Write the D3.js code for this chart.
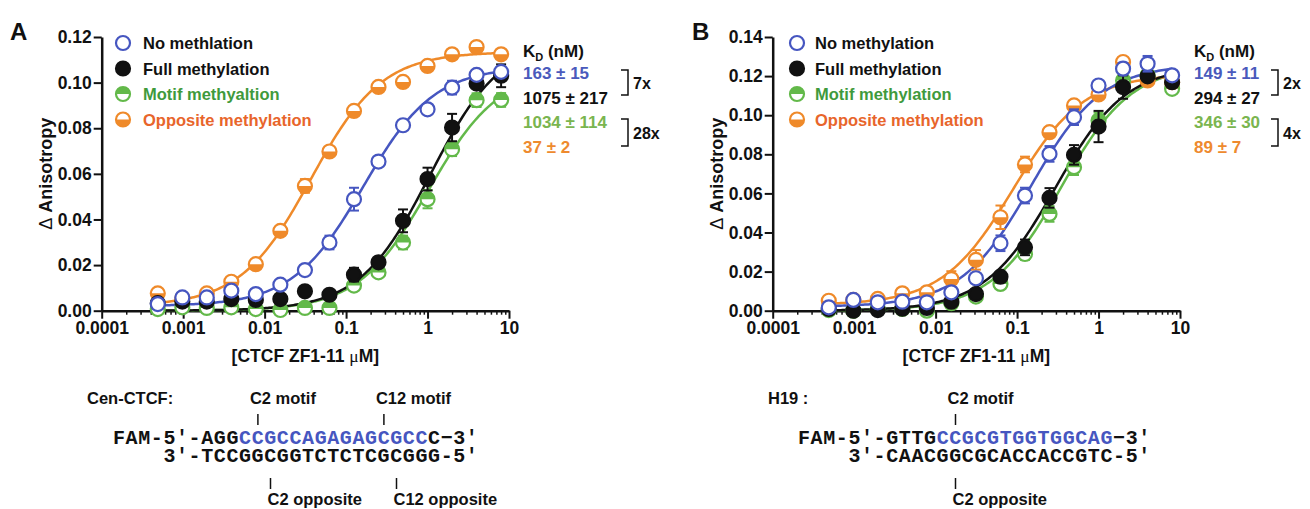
<!DOCTYPE html>
<html>
<head>
<meta charset="utf-8">
<script src="https://cdn.jsdelivr.net/npm/d3@7"></script>
<style>
body { margin: 0; background: #fff; }
svg text { font-family: Arial, "Liberation Sans", sans-serif; font-weight: bold; fill: #111; }
.axis path, .axis line { stroke: #111; }
</style>
</head>
<body>
<div id="vis"></div>
<script>
// titration points (uM), 2-fold dilutions
var conc = [0.000488, 0.000977, 0.00195, 0.0039, 0.0078, 0.0156, 0.03125, 0.0625, 0.125, 0.25, 0.5, 1, 2, 4, 8];
var xTicks = [0.0001, 0.001, 0.01, 0.1, 1, 10];
var xTickLabels = ['0.0001', '0.001', '0.01', '0.1', '1', '10'];
var yTicksA = [0, 0.02, 0.04, 0.06, 0.08, 0.10, 0.12];
var yTicksB = [0, 0.02, 0.04, 0.06, 0.08, 0.10, 0.12, 0.14];

var seriesA = ['No methlation', 'Full methylation', 'Motif methyaltion', 'Opposite methylation'];
var seriesB = ['No methylation', 'Full methylation', 'Motif methylation', 'Opposite methylation'];

// panel A (Cen-CTCF)
var noMethA   = [0.0029, 0.0058, 0.0058, 0.0088, 0.0073, 0.0114, 0.0178, 0.0299, 0.0489, 0.0654, 0.0813, 0.0883, 0.0978, 0.1034, 0.1047];
var fullMethA = [0.0033, 0.0040, 0.0040, 0.0051, 0.0047, 0.0051, 0.0085, 0.0070, 0.0158, 0.0212, 0.0394, 0.0577, 0.0803, 0.0996, 0.1030];
var motifA    = [0.0007, 0.0015, 0.0012, 0.0015, 0.0007, 0.0003, 0.0012, 0.0012, 0.0110, 0.0168, 0.0299, 0.0489, 0.0708, 0.0923, 0.0924];
var oppA      = [0.0076, 0.0055, 0.0076, 0.0127, 0.0204, 0.0350, 0.0547, 0.0698, 0.0876, 0.0981, 0.1003, 0.1073, 0.1124, 0.1156, 0.1124];
var noMethErrA   = [0.001, 0.001, 0.001, 0.002, 0.001, 0.001, 0.001, 0.003, 0.005, 0.002, 0.001, 0.002, 0.003, 0.002, 0.002];
var fullMethErrA = [0.001, 0.001, 0.001, 0.001, 0.001, 0.001, 0.001, 0.001, 0.003, 0.001, 0.005, 0.005, 0.006, 0.002, 0.005];
var motifErrA    = [0.001, 0.001, 0.001, 0.001, 0.001, 0.001, 0.001, 0.001, 0.002, 0.002, 0.003, 0.004, 0.003, 0.003, 0.003];
var oppErrA      = [0.001, 0.001, 0.001, 0.002, 0.001, 0.002, 0.003, 0.002, 0.002, 0.001, 0.001, 0.001, 0.001, 0.001, 0.001];
var kdA     = [0.163, 1.075, 1.034, 0.037];
var topA    = [0.107, 0.119, 0.106, 0.1135];
var bottomA = [0.002, 0, 0, 0.002];
var kdLabelsA = ['163 \u00b1 15', '1075 \u00b1 217', '1034 \u00b1 114', '37 \u00b1 2'];
var foldA = ['7x', '28x'];

// panel B (H19)
var noMethB   = [0.0017, 0.0055, 0.0043, 0.0046, 0.0043, 0.0094, 0.0166, 0.0345, 0.0589, 0.0802, 0.0990, 0.1152, 0.1238, 0.1263, 0.1204];
var fullMethB = [0.0009, 0.0000, 0.0003, 0.0010, 0.0014, 0.0046, 0.0085, 0.0174, 0.0324, 0.0577, 0.0797, 0.0942, 0.1144, 0.1199, 0.1169];
var motifB    = [0.0003, 0.0000, 0.0009, 0.0009, 0.0000, 0.0038, 0.0072, 0.0137, 0.0290, 0.0495, 0.0734, 0.0973, 0.1178, 0.1204, 0.1135];
var oppB      = [0.0051, 0.0055, 0.0060, 0.0089, 0.0094, 0.0162, 0.0260, 0.0478, 0.0748, 0.0913, 0.1050, 0.1106, 0.1272, 0.1178, 0.1169];
var noMethErrB   = [0.001, 0.001, 0.001, 0.001, 0.001, 0.002, 0.002, 0.004, 0.004, 0.004, 0.004, 0.002, 0.003, 0.004, 0.002];
var fullMethErrB = [0.001, 0.001, 0.001, 0.001, 0.001, 0.001, 0.002, 0.002, 0.004, 0.005, 0.005, 0.008, 0.006, 0.002, 0.002];
var motifErrB    = [0.001, 0.001, 0.001, 0.001, 0.001, 0.001, 0.002, 0.002, 0.003, 0.004, 0.004, 0.004, 0.003, 0.002, 0.002];
var oppErrB      = [0.001, 0.001, 0.001, 0.001, 0.001, 0.004, 0.005, 0.006, 0.004, 0.002, 0.002, 0.002, 0.002, 0.002, 0.002];
var kdB     = [0.149, 0.294, 0.346, 0.089];
var topB    = [0.126, 0.1255, 0.126, 0.121];
var bottomB = [0.002, 0, 0, 0.003];
var kdLabelsB = ['149 \u00b1 11', '294 \u00b1 27', '346 \u00b1 30', '89 \u00b1 7'];
var foldB = ['2x', '4x'];

var markerTypes = ['open', 'filled', 'top', 'bottom'];
var lineColors = ['#4656c0', '#111111', '#63b94a', '#ef8a2a'];
var legendColors = ['#111111', '#111111', '#3f9a3c', '#e8652b'];
var kdColors = ['#4a5abc', '#111111', '#7ab54f', '#ee8a2e'];

var width = 1310, height = 509;
var svg = d3.select('#vis').append('svg')
    .attr('width', width)
    .attr('height', height);

function drawMarker(sel, type, color, r) {
    sel.append('circle')
        .attr('r', r)
        .attr('fill', type == 'filled' ? color : '#fff')
        .attr('stroke', color)
        .attr('stroke-width', 2.2);
    if (type == 'top' || type == 'bottom') {
        var sweep = type == 'top' ? 1 : 0;
        sel.append('path')
            .attr('d', 'M' + (-r) + ',0 A' + r + ',' + r + ' 0 0 ' + sweep + ' ' + r + ',0 Z')
            .attr('fill', color);
    }
}

function drawPanel(p) {
    var x = d3.scaleLog().domain([0.0001, 10]).range([p.left, p.right]);
    var y = d3.scaleLinear().domain([0, p.yMax]).range([p.bottom, p.top]);
    var g = svg.append('g');

    // panel letter
    svg.append('text')
        .attr('x', p.letterX).attr('y', 40)
        .style('font-size', '24px')
        .text(p.letter);

    // axes
    var minor = [];
    for (var e = -4; e < 1; e++) {
        for (var m = 2; m < 10; m++) minor.push(m * Math.pow(10, e));
    }
    var xMinor = g.append('g').attr('class', 'axis')
        .attr('transform', 'translate(0,' + p.bottom + ')')
        .call(d3.axisBottom(x).tickValues(minor).tickSize(4).tickSizeOuter(0).tickFormat(''));
    xMinor.select('.domain').remove();
    xMinor.selectAll('line').attr('stroke-width', 1.5);

    var xAxis = g.append('g').attr('class', 'axis')
        .attr('transform', 'translate(0,' + p.bottom + ')')
        .call(d3.axisBottom(x).tickValues(xTicks).tickSize(8).tickSizeOuter(0).tickPadding(3)
            .tickFormat(function(d, i) { return xTickLabels[i]; }));
    xAxis.select('.domain').attr('stroke-width', 2.5);
    xAxis.selectAll('line').attr('stroke-width', 2);
    xAxis.selectAll('text').style('font-size', '17.5px').style('font-family', 'Arial, "Liberation Sans", sans-serif').attr('fill', '#111');

    var yAxis = g.append('g').attr('class', 'axis')
        .attr('transform', 'translate(' + p.left + ',0)')
        .call(d3.axisLeft(y).tickValues(p.yTicks).tickSize(8).tickSizeOuter(0).tickPadding(2).tickFormat(d3.format('.2f')));
    yAxis.select('.domain').attr('stroke-width', 2.5);
    yAxis.selectAll('line').attr('stroke-width', 2);
    yAxis.selectAll('text').style('font-size', '17.5px').style('font-family', 'Arial, "Liberation Sans", sans-serif').attr('fill', '#111');

    // axis titles
    var yt = svg.append('text')
        .attr('transform', 'translate(' + (p.left - 50) + ',' + ((p.top + p.bottom) / 2) + ') rotate(-90)')
        .attr('text-anchor', 'middle')
        .style('font-size', '18px');
    yt.append('tspan').style('font-weight', 'normal').text('\u0394');
    yt.append('tspan').text(' Anisotropy');

    var xt = svg.append('text')
        .attr('x', (p.left + p.right) / 2).attr('y', 362)
        .attr('text-anchor', 'middle')
        .style('font-size', '17.5px');
    xt.append('tspan').text('[CTCF ZF1-11 ');
    xt.append('tspan').style('font-weight', 'normal').style('font-family', '"Liberation Serif", serif').text('\u03bc');
    xt.append('tspan').text('M]');

    // fitted curves
    var line = d3.line().x(d => x(d[0])).y(d => y(d[1]));
    var lo = Math.log10(conc[0]), hi = Math.log10(conc[conc.length - 1]);
    var order = [2, 3, 1, 0];
    order.forEach(function(i) {
        var pts = d3.range(0, 201).map(function(k) {
            var c = Math.pow(10, lo + k * (hi - lo) / 200);
            return [c, p.bottoms[i] + (p.tops[i] - p.bottoms[i]) * c / (p.kd[i] + c)];
        });
        g.append('path')
            .attr('d', line(pts))
            .attr('fill', 'none')
            .attr('stroke', lineColors[i])
            .attr('stroke-width', 2.5);
    });

    // error bars and points
    order.forEach(function(i) {
        var vals = p.values[i], errs = p.errors[i];
        var sg = g.append('g');
        var eb = sg.selectAll('.eb').data(conc).enter().append('g');
        eb.append('line')
            .attr('x1', d => x(d)).attr('x2', d => x(d))
            .attr('y1', (d, j) => y(vals[j] - errs[j]))
            .attr('y2', (d, j) => y(vals[j] + errs[j]))
            .attr('stroke', lineColors[i]).attr('stroke-width', 2);
        [-1, 1].forEach(function(s) {
            eb.append('line')
                .attr('x1', d => x(d) - 5).attr('x2', d => x(d) + 5)
                .attr('y1', (d, j) => y(vals[j] + s * errs[j]))
                .attr('y2', (d, j) => y(vals[j] + s * errs[j]))
                .attr('stroke', lineColors[i]).attr('stroke-width', 2);
        });
        sg.selectAll('.pt').data(conc).enter().append('g')
            .attr('transform', (d, j) => 'translate(' + x(d) + ',' + y(vals[j]) + ')')
            .each(function() { drawMarker(d3.select(this), markerTypes[i], lineColors[i], 7); });
    });

    // legend
    p.names.forEach(function(name, i) {
        var lg = svg.append('g').attr('transform', 'translate(' + p.legendX + ',' + (43 + i * 25.5) + ')');
        drawMarker(lg, markerTypes[i], lineColors[i], 7);
        lg.append('text')
            .attr('x', p.legendGap).attr('y', 6)
            .style('font-size', '16.5px')
            .style('fill', legendColors[i])
            .text(name);
    });

    // KD table
    var kt = svg.append('text').attr('x', p.kdX).attr('y', 57).style('font-size', '17px');
    kt.append('tspan').text('K');
    kt.append('tspan').attr('dy', 4).style('font-size', '11px').text('D');
    kt.append('tspan').attr('dy', -4).text(' (nM)');
    p.kdLabels.forEach(function(t, i) {
        svg.append('text')
            .attr('x', p.kdX).attr('y', 79 + i * 24.5)
            .style('font-size', '17px')
            .style('fill', kdColors[i])
            .text(t);
    });
    [[70, 95], [119, 146]].forEach(function(b, i) {
        svg.append('path')
            .attr('d', 'M' + p.bracketX + ',' + b[0] + 'H' + (p.bracketX + 7) + 'V' + b[1] + 'H' + p.bracketX)
            .attr('fill', 'none').attr('stroke', '#111').attr('stroke-width', 1.5);
        svg.append('text')
            .attr('x', p.bracketX + 12).attr('y', (b[0] + b[1]) / 2 + 6)
            .style('font-size', '16px')
            .text(p.folds[i]);
    });
}

drawPanel({
    letter: 'A', letterX: 10,
    left: 101.7, right: 509, top: 37, bottom: 310.7,
    yMax: 0.12, yTicks: yTicksA,
    names: seriesA, values: [noMethA, fullMethA, motifA, oppA],
    errors: [noMethErrA, fullMethErrA, motifErrA, oppErrA],
    kd: kdA, tops: topA, bottoms: bottomA,
    legendX: 123, legendGap: 20,
    kdX: 523, kdLabels: kdLabelsA, bracketX: 621, folds: foldA
});

drawPanel({
    letter: 'B', letterX: 692,
    left: 772.7, right: 1180, top: 37, bottom: 310.7,
    yMax: 0.14, yTicks: yTicksB,
    names: seriesB, values: [noMethB, fullMethB, motifB, oppB],
    errors: [noMethErrB, fullMethErrB, motifErrB, oppErrB],
    kd: kdB, tops: topB, bottoms: bottomB,
    legendX: 797, legendGap: 18,
    kdX: 1194, kdLabels: kdLabelsB, bracketX: 1271, folds: foldB
});

// sequences below the plots
var seqFont = '"Courier New", "Liberation Mono", monospace';
var cw = 12.6;
var seqBlue = '#4656c0';

function drawSeq(s) {
    svg.append('text').attr('x', s.nameX).attr('y', 404).style('font-size', '16.5px').text(s.name);
    var l1 = svg.append('text').attr('x', s.x0).attr('y', 444)
        .style('font-family', seqFont).style('font-size', '20px').style('letter-spacing', '0.6px');
    s.top.forEach(function(part) {
        l1.append('tspan').style('fill', part[1] ? seqBlue : '#111').text(part[0]);
    });
    svg.append('text').attr('x', s.x0 + 4 * cw).attr('y', 462)
        .style('font-family', seqFont).style('font-size', '20px').style('letter-spacing', '0.6px')
        .text(s.bottom);
    s.upper.forEach(function(u) {
        var cx = s.x0 + (u[0] + 0.5) * cw;
        svg.append('line').attr('x1', cx).attr('x2', cx).attr('y1', 414).attr('y2', 425)
            .attr('stroke', '#111').attr('stroke-width', 1.5);
        svg.append('text').attr('x', cx - 8).attr('y', 404).style('font-size', '16.5px').text(u[1]);
    });
    s.lower.forEach(function(u) {
        var cx = s.x0 + (u[0] + 0.5) * cw;
        svg.append('line').attr('x1', cx).attr('x2', cx).attr('y1', 478).attr('y2', 489)
            .attr('stroke', '#111').attr('stroke-width', 1.5);
        svg.append('text').attr('x', cx - 3).attr('y', 505).style('font-size', '16.5px').text(u[1]);
    });
}

drawSeq({
    name: 'Cen-CTCF:', nameX: 87, x0: 113,
    top: [['FAM-5\u2032-AGG', false], ['CCGCCAGAGAGCGCC', true], ['C\u22123\u2032', false]],
    bottom: '3\u2032-TCCGGCGGTCTCTCGCGGG-5\u2032',
    upper: [[11, 'C2 motif'], [21, 'C12 motif']],
    lower: [[12, 'C2 opposite'], [22, 'C12 opposite']]
});

drawSeq({
    name: 'H19 :', nameX: 768, x0: 798,
    top: [['FAM-5\u2032-GTTG', false], ['CCGCGTGGTGGCAG', true], ['\u22123\u2032', false]],
    bottom: '3\u2032-CAACGGCGCACCACCGTC-5\u2032',
    upper: [[12, 'C2 motif']],
    lower: [[12, 'C2 opposite']]
});
</script>
</body>
</html>
